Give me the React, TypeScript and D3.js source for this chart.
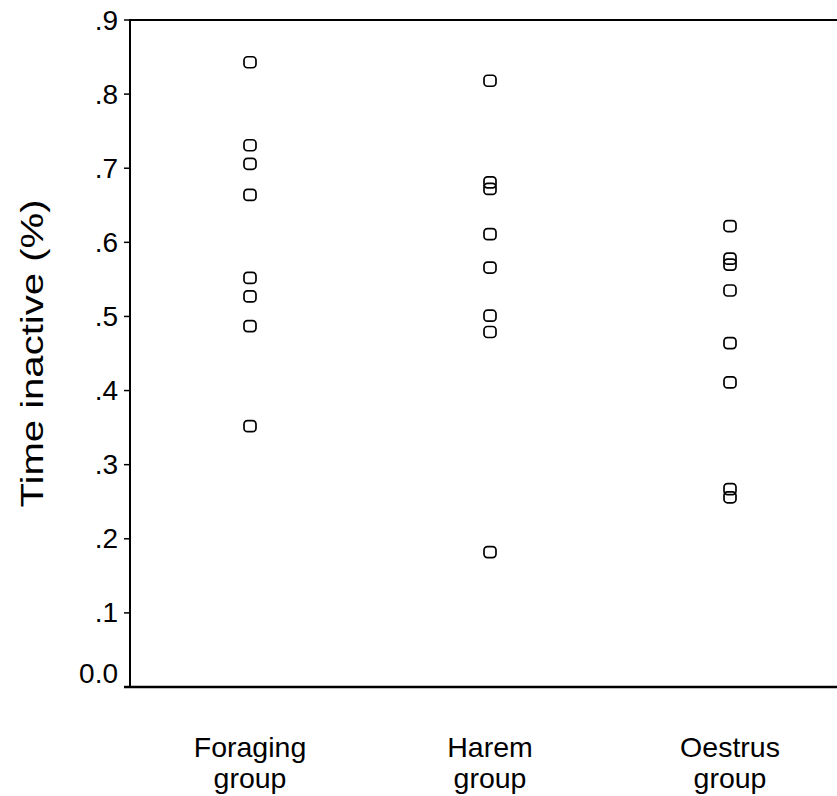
import React from "react";
import * as d3 from "d3";

const categories = ["Foraging group", "Harem group", "Oestrus group"];
const foragingValues = [0.843, 0.731, 0.706, 0.664, 0.552, 0.527, 0.487, 0.352];
const haremValues = [0.818, 0.681, 0.672, 0.611, 0.566, 0.501, 0.479, 0.182];
const oestrusValues = [0.622, 0.578, 0.570, 0.535, 0.464, 0.411, 0.267, 0.256];
const yTicks = [0, 0.1, 0.2, 0.3, 0.4, 0.5, 0.6, 0.7, 0.8, 0.9];
const yTickLabels = ["0.0", ".1", ".2", ".3", ".4", ".5", ".6", ".7", ".8", ".9"];
const yTitle = "Time inactive (%)";

const W = 837;
const H = 796;
const FONT = "'Liberation Sans', Arial, Helvetica, sans-serif";

export default function App() {
  const left = 130;
  const top = 20;
  const bottom = 687;
  const y = d3.scaleLinear().domain([0, 0.9]).range([bottom, top]);
  const x = d3.scaleBand<string>().domain(categories).range([left, 850]);
  const series = [foragingValues, haremValues, oestrusValues];
  const mw = 12;
  const mh = 11;

  return (
    <svg
      width={W}
      height={H}
      style={{ position: "absolute", left: 0, top: 0, background: "#fff" }}
      fontFamily={FONT}
    >
      <rect x={0} y={0} width={W} height={H} fill="#fff" />
      <line x1={left} x2={W} y1={top} y2={top} stroke="#000" strokeWidth={2} />
      <line x1={left - 6} x2={W} y1={bottom} y2={bottom} stroke="#000" strokeWidth={2.7} />
      <line x1={left} x2={left} y1={top - 1} y2={bottom} stroke="#000" strokeWidth={2} />
      {yTicks.map((t, i) => {
        const yy = y(t);
        return (
          <g key={i}>
            <line x1={left - 6} x2={left} y1={yy} y2={yy} stroke="#000" strokeWidth={1.5} />
            <text
              x={118}
              y={i === 0 ? yy - 14 : yy}
              textAnchor="end"
              dominantBaseline="central"
              fontSize={28}
              fill="#000"
            >
              {yTickLabels[i]}
            </text>
          </g>
        );
      })}
      <text
        transform={`translate(43, ${(top + bottom) / 2}) rotate(-90)`}
        textAnchor="middle"
        fontSize={31}
        textLength={308}
        lengthAdjust="spacingAndGlyphs"
        fill="#000"
      >
        {yTitle}
      </text>
      {categories.map((c, ci) => {
        const cx = (x(c) as number) + x.bandwidth() / 2;
        const words = c.split(" ");
        return (
          <g key={c}>
            <text x={cx} y={757} textAnchor="middle" fontSize={28.5} fill="#000">
              {words[0]}
            </text>
            <text x={cx} y={788} textAnchor="middle" fontSize={28.5} fill="#000">
              {words[1]}
            </text>
            {series[ci].map((v, vi) => (
              <rect
                key={vi}
                x={cx - mw / 2}
                y={y(v) - mh / 2}
                width={mw}
                height={mh}
                rx={3.5}
                ry={3.5}
                fill="none"
                stroke="#000"
                strokeWidth={1.7}
              />
            ))}
          </g>
        );
      })}
    </svg>
  );
}
